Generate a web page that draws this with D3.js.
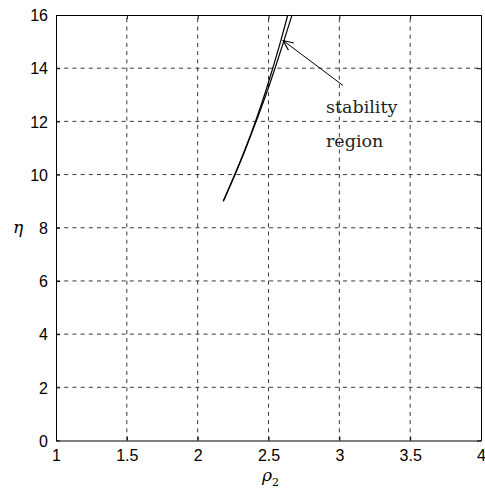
<!DOCTYPE html>
<html>
<head>
<meta charset="utf-8">
<script src="https://cdn.jsdelivr.net/npm/d3@7"></script>
<style>
  html, body { margin: 0; padding: 0; background: #fff; }
  svg { display: block; }
</style>
</head>
<body>
<svg id="chart" width="485" height="490"></svg>
<script>
// Boundary curves of the stability region: rho2 as function of eta
const etaValues   = [9, 10, 11, 12, 13, 14, 15, 16];
const leftBound   = [2.180, 2.262, 2.338, 2.408, 2.472, 2.530, 2.585, 2.636];
const rightBound  = [2.182, 2.264, 2.341, 2.413, 2.482, 2.546, 2.607, 2.666];

const xTicks = [1, 1.5, 2, 2.5, 3, 3.5, 4];
const yTicks = [0, 2, 4, 6, 8, 10, 12, 14, 16];

// Annotation: arrow from the label to the region
const arrowFrom = [3.026, 13.35];
const arrowTo   = [2.603, 15.04];
const noteLines = ["stability", "region"];

const svg = d3.select("#chart");
const plot = { left: 56, right: 481, top: 15, bottom: 440.5 };

const x = d3.scaleLinear().domain([1, 4]).range([plot.left, plot.right]);
const y = d3.scaleLinear().domain([0, 16]).range([plot.bottom, plot.top]);

// grid
const grid = svg.append("g")
  .attr("stroke", "#222").attr("stroke-width", 0.9)
  .attr("stroke-dasharray", "4,4.2");
grid.selectAll("line.v").data(xTicks.slice(1, -1)).join("line")
  .attr("x1", d => x(d)).attr("x2", d => x(d))
  .attr("y1", plot.bottom).attr("y2", plot.top);
grid.selectAll("line.h").data(yTicks.slice(1, -1)).join("line")
  .attr("y1", d => y(d)).attr("y2", d => y(d))
  .attr("x1", plot.left).attr("x2", plot.right);

// axes with inward ticks
const fmt = d => String(d);
const xAxis = d3.axisBottom(x).tickValues(xTicks).tickSizeInner(-4).tickSizeOuter(0).tickPadding(9).tickFormat(fmt);
const yAxis = d3.axisLeft(y).tickValues(yTicks).tickSizeInner(-4).tickSizeOuter(0).tickPadding(8).tickFormat(fmt);

const gx = svg.append("g").attr("transform", `translate(0,${plot.bottom})`).call(xAxis);
const gy = svg.append("g").attr("transform", `translate(${plot.left},0)`).call(yAxis);
[gx, gy].forEach(g => {
  g.selectAll("text").attr("font-family", "Liberation Sans, Arial, sans-serif")
    .attr("font-size", 16).attr("fill", "#000");
  g.selectAll("line").attr("stroke", "#000");
  g.select(".domain").attr("stroke", "#000");
});
gy.selectAll("text").attr("dy", "0.36em");

// top and right box edges with ticks
const gxTop = svg.append("g").attr("transform", `translate(0,${plot.top})`)
  .call(d3.axisTop(x).tickValues(xTicks).tickSizeInner(-4).tickSizeOuter(0).tickFormat(""));
const gyRight = svg.append("g").attr("transform", `translate(${plot.right},0)`)
  .call(d3.axisRight(y).tickValues(yTicks).tickSizeInner(-4).tickSizeOuter(0).tickFormat(""));
[gxTop, gyRight].forEach(g => {
  g.selectAll("line").attr("stroke", "#000");
  g.select(".domain").attr("stroke", "#000");
});

// boundary curves
const line = d3.line().x(d => x(d[0])).y(d => y(d[1])).curve(d3.curveMonotoneY);
[leftBound, rightBound].forEach(series => {
  svg.append("path")
    .datum(series.map((v, i) => [v, etaValues[i]]))
    .attr("d", line)
    .attr("fill", "none").attr("stroke", "#000").attr("stroke-width", 1.2);
});

// arrow annotation
svg.append("defs").append("marker")
  .attr("id", "head").attr("viewBox", "0 0 12 12").attr("refX", 11).attr("refY", 6)
  .attr("markerWidth", 12).attr("markerHeight", 12).attr("markerUnits", "userSpaceOnUse")
  .attr("orient", "auto")
  .append("path").attr("d", "M1,1.5 L11,6 L1,10.5")
  .attr("fill", "none").attr("stroke", "#000").attr("stroke-width", 1.1);
svg.append("line")
  .attr("x1", x(arrowFrom[0])).attr("y1", y(arrowFrom[1]))
  .attr("x2", x(arrowTo[0])).attr("y2", y(arrowTo[1]))
  .attr("stroke", "#000").attr("stroke-width", 1)
  .attr("marker-end", "url(#head)");

svg.selectAll("text.note").data(noteLines).join("text")
  .attr("class", "note")
  .attr("x", 326).attr("y", (d, i) => 113 + i * 34)
  .attr("font-family", "DejaVu Serif, serif").attr("font-size", 17.5)
  .attr("fill", "#222")
  .text(d => d);

// axis titles
const xt = svg.append("text").attr("x", 262).attr("y", 481)
  .attr("font-family", "DejaVu Serif, serif").attr("font-size", 17).attr("font-style", "italic");
xt.append("tspan").text("ρ");
xt.append("tspan").attr("dy", 5).attr("font-size", 11).attr("font-style", "normal").text("2");

svg.append("text").attr("x", 13).attr("y", 233)
  .attr("font-family", "DejaVu Serif, serif").attr("font-size", 17).attr("font-style", "italic")
  .text("η");
</script>
</body>
</html>
